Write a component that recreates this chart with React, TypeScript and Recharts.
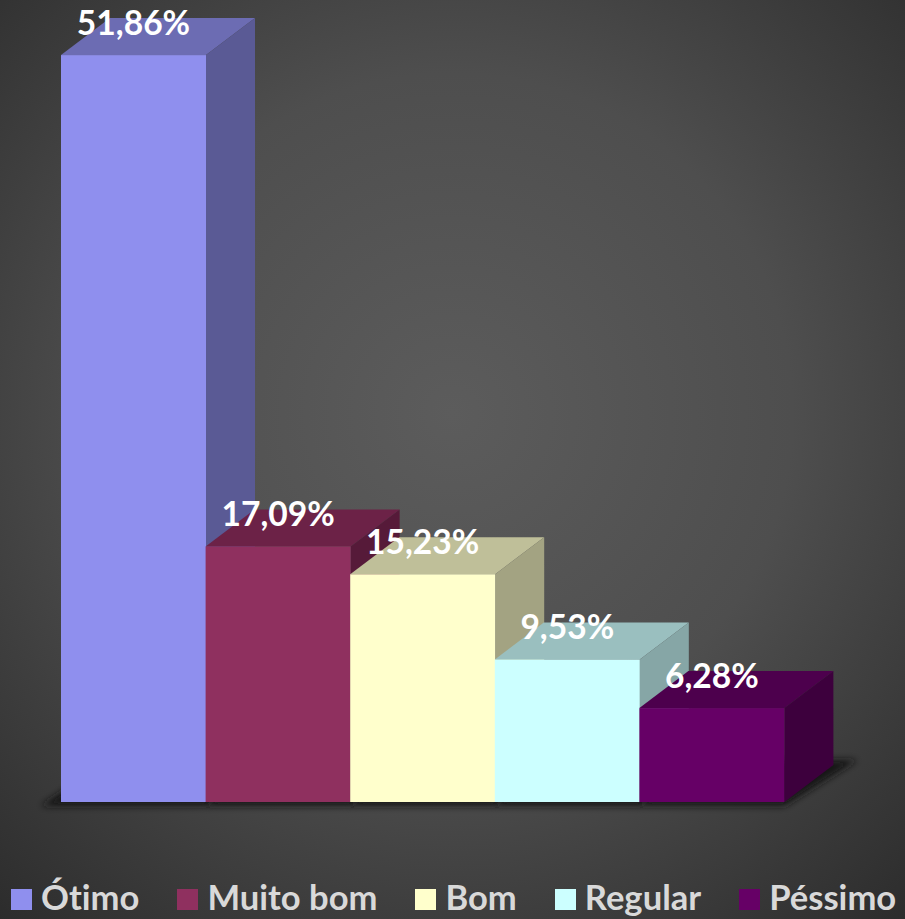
import { Bar, BarChart, LabelList, Legend, XAxis, YAxis } from 'recharts'

const categories = ['Ótimo', 'Muito bom', 'Bom', 'Regular', 'Péssimo']
const values = [51.86, 17.09, 15.23, 9.53, 6.28]
const frontColors = ['#8f8fee', '#8f305f', '#ffffcc', '#ccffff', '#660066']
const topColors = ['#6c6cb3', '#6c2247', '#bfbf99', '#9abfbf', '#4d004d']
const sideColors = ['#5a5a95', '#561a39', '#a3a382', '#86a6a6', '#3d003d']

// the first bar stops short of its value in the original, the axis is cut there
const axisCap = 49.95
const depthX = 49
const depthY = 37
const fontName = 'Lato, sans-serif'

const chartData = categories.map((name, i) => ({ name, value: values[i] }))

function cappedHeight(height: number, value: number) {
  return (height / value) * Math.min(value, axisCap)
}

function FloorShadow(props: any) {
  const { x, y, width, height, index } = props
  const base = y + height
  const left = index === 0 ? x - 20 : x
  const right = x + width
  const extra = index === categories.length - 1 ? 24 : 0
  const points = [
    [left, base + 4],
    [right, base + 4],
    [right + depthX + extra, base - depthY - 5],
    [x + depthX, base - depthY - 5],
  ]
  return (
    <g>
      <defs>
        <filter id={'floorBlur' + index} x='-30%' y='-30%' width='160%' height='160%'>
          <feGaussianBlur stdDeviation='3.5' />
        </filter>
      </defs>
      <polygon
        points={points.map((p) => p.join(',')).join(' ')}
        fill='#151515'
        filter={`url(#floorBlur${index})`}
      />
    </g>
  )
}

function Bar3D(props: any) {
  const { x, y, width, height, index, value } = props
  const h = cappedHeight(height, value)
  const base = y + height
  const top = base - h
  const r = x + width
  return (
    <g>
      <polygon
        points={`${x},${top} ${x + depthX},${top - depthY} ${r + depthX},${top - depthY} ${r},${top}`}
        fill={topColors[index]}
      />
      <polygon
        points={`${r},${top} ${r + depthX},${top - depthY} ${r + depthX},${base - depthY} ${r},${base}`}
        fill={sideColors[index]}
      />
      <rect x={x} y={top} width={width} height={h} fill={frontColors[index]} />
    </g>
  )
}

function ValueLabel(props: any) {
  const { x, y, width, height, value } = props
  const top = y + height - cappedHeight(height, value)
  return (
    <text
      x={x + width / 2}
      y={top - 20}
      textAnchor='middle'
      fill='#ffffff'
      fontFamily={fontName}
      fontWeight={700}
      fontSize={33.6}
    >
      {value.toFixed(2).replace('.', ',') + '%'}
    </text>
  )
}

function LegendRow() {
  return (
    <div style={{ display: 'flex', gap: 38, paddingLeft: 11, alignItems: 'center', whiteSpace: 'nowrap' }}>
      {categories.map((name, i) => (
        <div key={name} style={{ display: 'flex', alignItems: 'center' }}>
          <span style={{ width: 21, height: 21, background: frontColors[i], marginRight: 9, display: 'block' }} />
          <span
            style={{
              color: '#d9d9d9',
              fontFamily: fontName,
              fontWeight: 700,
              fontSize: 34.6,
              lineHeight: '40px',
              fontVariantLigatures: 'none',
              position: 'relative',
              top: -2,
            }}
          >
            {name}
          </span>
        </div>
      ))}
    </div>
  )
}

export default function App() {
  return (
    <div
      style={{
        position: 'absolute',
        left: 0,
        top: 0,
        width: 905,
        height: 919,
        background: 'radial-gradient(ellipse 680px 680px at 50% 45%, #5c5c5c 0%, #4e4e4e 50%, #2c2c2c 100%)',
      }}
    >
      <BarChart
        width={905}
        height={919}
        data={chartData}
        barCategoryGap={0}
        margin={{ top: 2, right: 121, bottom: 117, left: 61 }}
      >
        <XAxis dataKey='name' hide />
        <YAxis hide domain={[0, 53.5]} />
        <Legend
          verticalAlign='middle'
          content={() => <LegendRow />}
          wrapperStyle={{ top: 879, left: 0, width: 905 }}
        />
        <Bar dataKey='value' isAnimationActive={false} background={FloorShadow} shape={Bar3D}>
          <LabelList dataKey='value' content={ValueLabel} />
        </Bar>
      </BarChart>
    </div>
  )
}
